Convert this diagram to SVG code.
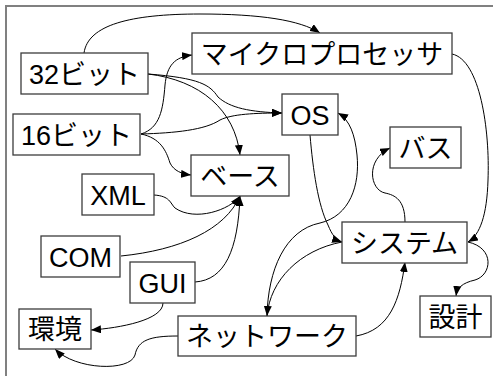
<svg xmlns="http://www.w3.org/2000/svg" width="493" height="376" viewBox="0 0 493 376">
<style>
.n rect{fill:#fff;stroke:#3c3c3c;stroke-width:1.3}
.n text{font-family:"Liberation Sans","Noto Sans CJK JP",sans-serif;font-size:27px;fill:#000;text-anchor:middle}
.e path{fill:none;stroke:#000;stroke-width:1}
.ea path{marker-end:url(#ah)}
</style>
<defs>
<marker id="ah" markerWidth="11" markerHeight="8" refX="10" refY="4" orient="auto" markerUnits="userSpaceOnUse">
<path d="M0,0 L10,4 L0,8 Z" fill="#000"/>
</marker>
</defs>
<rect x="6" y="6" width="600" height="500" fill="#fff" stroke="#808080" stroke-width="2"/>
<g id="connectors" class="e">
<g class="ea">
<path d="M84,53 C88,25 130,14 200,14 C260,14 300,20 320,33"/>
<path d="M148,74 C200,78 210,85 218,97 C230,108 250,112 282,113"/>
<path d="M148,74 C200,80 235,110 240,155"/>
<path d="M141,134 C160,128 163,110 165,85 C167,65 175,57 192,55"/>
<path d="M141,134 C175,133 205,130 220,120 C232,114 255,113 282,113"/>
<path d="M141,134 C160,138 166,150 170,163 C174,171 182,174 191,175"/>
<path d="M154,195 C170,196 170,203 175,208 C195,222 230,210 240,196"/>
<path d="M121,256 C180,250 225,230 240,196"/>
<path d="M195,282 C225,280 238,250 240,196"/>
<path d="M163,303 C163,320 120,328 91,330"/>
<path d="M178,336 C150,336 138,340 135,355 C130,372 75,370 55,349"/>
<path d="M356,336 C390,330 400,300 405,262"/>
<path d="M342,242 C300,250 270,280 267,316"/>
<path d="M310,135 C313,170 318,205 328,225 C332,235 336,240 342,242"/>
<path d="M267,316 C268,270 285,230 320,223 C350,216 360,185 357,155 C355,135 350,120 338,113"/>
<path d="M405,222 C405,200 395,195 385,193 C370,190 365,160 390,148"/>
<path d="M452,54 C480,60 490,130 488,180 C487,215 480,235 468,242"/>
<path d="M468,242 C495,248 492,275 475,280 C462,283 457,288 456,296"/>
</g>
</g>
<g id="n32" class="n"><rect x="21" y="53" width="127" height="41"/><text x="84.5" y="83.5">32ビット</text></g>
<g id="n16" class="n"><rect x="13" y="114" width="127" height="41"/><text x="76.5" y="144.5">16ビット</text></g>
<g id="micro" class="n"><rect x="192" y="33" width="260" height="41"/><text x="322" y="63.5">マイクロプロセッサ</text></g>
<g id="os" class="n"><rect x="282" y="94" width="56" height="41"/><text x="310" y="124.5">OS</text></g>
<g id="bus" class="n"><rect x="390" y="127" width="71" height="41"/><text x="425.5" y="157.5">バス</text></g>
<g id="base" class="n"><rect x="191" y="155" width="98" height="41"/><text x="240" y="185.5">ベース</text></g>
<g id="xml" class="n"><rect x="82" y="174" width="72" height="41"/><text x="118" y="204.5">XML</text></g>
<g id="com" class="n"><rect x="41" y="236" width="79" height="41"/><text x="80.5" y="266.5">COM</text></g>
<g id="gui" class="n"><rect x="130" y="262" width="65" height="41"/><text x="162.5" y="292.5">GUI</text></g>
<g id="env" class="n"><rect x="19" y="309" width="72" height="40"/><text x="55" y="339">環境</text></g>
<g id="net" class="n"><rect x="178" y="316" width="178" height="40"/><text x="267" y="346">ネットワーク</text></g>
<g id="sys" class="n"><rect x="342" y="222" width="125" height="41"/><text x="404.5" y="252.5">システム</text></g>
<g id="design" class="n"><rect x="420" y="296" width="71" height="41"/><text x="455.5" y="326.5">設計</text></g>
</svg>
